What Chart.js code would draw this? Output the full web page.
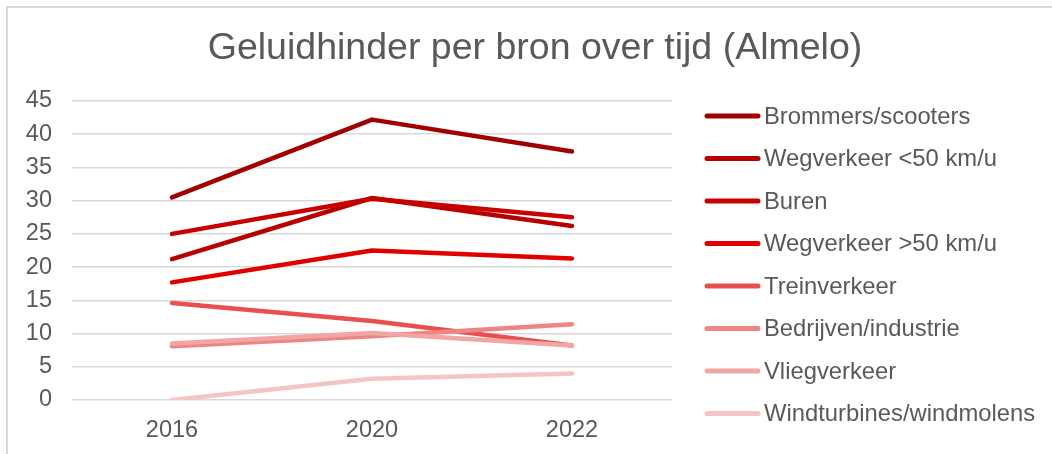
<!DOCTYPE html>
<html>
<head>
<meta charset="utf-8">
<script src="https://cdn.jsdelivr.net/npm/chart.js@4"></script>
<style>
  html, body { margin: 0; padding: 0; background: #fff; overflow: hidden; }
  #frame {
    position: absolute; left: 6px; top: 6px; width: 1100px; height: 500px;
    border-left: 2px solid #d9d9d9; border-top: 2px solid #d9d9d9;
  }
  #wrap { position: absolute; left: 0; top: 0; width: 1052px; height: 454px; }
</style>
</head>
<body>
<div id="frame"></div>
<div id="wrap"><canvas id="chart" width="1052" height="454"></canvas></div>
<script>
// DATA
const title = "Geluidhinder per bron over tijd (Almelo)";
const years = ["2016", "2020", "2022"];
const yTicks = [0, 5, 10, 15, 20, 25, 30, 35, 40, 45];

const seriesNames = [
  "Brommers/scooters",
  "Wegverkeer <50 km/u",
  "Buren",
  "Wegverkeer >50 km/u",
  "Treinverkeer",
  "Bedrijven/industrie",
  "Vliegverkeer",
  "Windturbines/windmolens"
];
const brommers = [30.5, 42.2, 37.4];
const wegLaag = [21.2, 30.4, 26.2];
const buren = [25.0, 30.3, 27.5];
const wegHoog = [17.7, 22.5, 21.3];
const trein = [14.6, 11.9, 8.2];
const bedrijven = [8.1, 9.6, 11.4];
const vlieg = [8.5, 10.1, 8.2];
const wind = [0, 3.2, 4.0];
const seriesValues = [brommers, wegLaag, buren, wegHoog, trein, bedrijven, vlieg, wind];

const seriesColors = ["#a00000", "#b80000", "#c80000", "#e00000", "#e85050", "#ee8585", "#f2a5a5", "#f5c4c4"];

const textColor = "#595959";
const fontFamily = "'Liberation Sans', Arial, sans-serif";

// title + legend drawn on the canvas, right of the plot
const sidePlugin = {
  id: "side",
  afterDraw(chart) {
    const ctx = chart.ctx;
    ctx.save();
    ctx.fillStyle = textColor;
    ctx.font = "37.5px " + fontFamily;
    ctx.textAlign = "center";
    ctx.textBaseline = "alphabetic";
    ctx.fillText(title, 535, 59);

    ctx.font = "23.8px " + fontFamily;
    ctx.textAlign = "left";
    ctx.textBaseline = "middle";
    chart.data.datasets.forEach((ds, i) => {
      const y = 116 + i * 42.5;
      ctx.strokeStyle = ds.borderColor;
      ctx.lineWidth = 5;
      ctx.lineCap = "round";
      ctx.beginPath();
      ctx.moveTo(707, y);
      ctx.lineTo(758, y);
      ctx.stroke();
      ctx.fillStyle = textColor;
      ctx.fillText(ds.label, 764, y + 1);
    });
    ctx.restore();
  }
};

new Chart(document.getElementById("chart"), {
  type: "line",
  data: {
    labels: years,
    datasets: seriesNames.map((name, i) => ({
      label: name,
      data: seriesValues[i],
      borderColor: seriesColors[i],
      backgroundColor: seriesColors[i],
      borderWidth: 4.5,
      borderCapStyle: "round",
      borderJoinStyle: "round",
      pointRadius: 0,
      tension: 0,
      fill: false,
      order: seriesNames.length - i
    }))
  },
  options: {
    responsive: false,
    animation: false,
    layout: { padding: { left: 0, top: 101, right: 380, bottom: 10 } },
    plugins: {
      legend: { display: false },
      title: { display: false },
      tooltip: { enabled: false }
    },
    scales: {
      x: {
        offset: true,
        grid: { display: false, drawTicks: false },
        border: { display: false },
        ticks: { color: textColor, padding: 16, font: { family: fontFamily, size: 23.5 } },
        afterFit: (s) => { s.height = 44; }
      },
      y: {
        min: 0,
        max: 45,
        afterBuildTicks: (s) => { s.ticks = yTicks.map((v) => ({ value: v })); },
        grid: { color: "#d9d9d9", lineWidth: 1.5, drawTicks: false },
        border: { display: false },
        ticks: { color: textColor, padding: 20, font: { family: fontFamily, size: 23.5 } },
        afterFit: (s) => { s.width = 72; }
      }
    }
  },
  plugins: [sidePlugin]
});
</script>
</body>
</html>
